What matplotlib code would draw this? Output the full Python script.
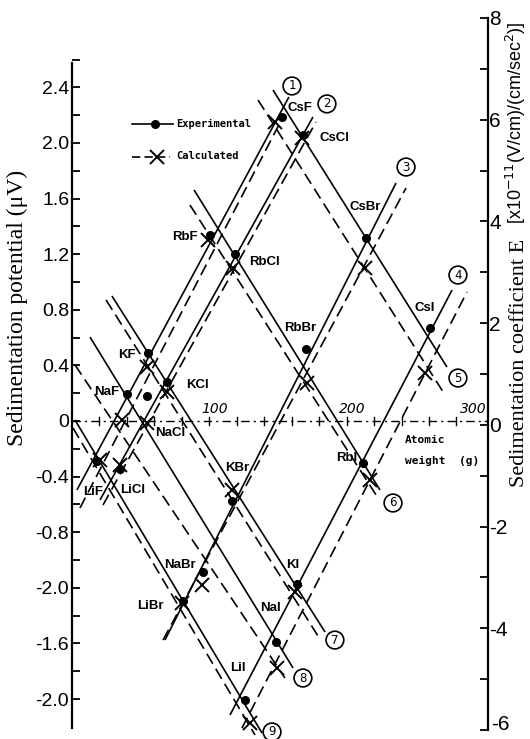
import matplotlib
matplotlib.use("Agg")
import matplotlib.pyplot as plt
from matplotlib.lines import Line2D
from matplotlib import font_manager

# ---------------- data (x = molecular/atomic weight, y = sedimentation potential, uV)
salts = ["CsF", "CsCl", "CsBr", "CsI",
         "RbF", "RbCl", "RbBr", "RbI",
         "KF", "KCl", "KBr", "KI",
         "NaF", "NaCl", "NaBr", "NaI",
         "LiF", "LiCl", "LiBr", "LiI"]
exp_x = [152.9, 168.2, 214.1, 260.7,
         100.5, 118.7, 170.4, 212.0,
         55.4, 69.2, 116.5, 163.9,
         40.1, 54.6, 95.4, 148.6,
         18.2, 35.0, 80.8, 126.0]
exp_y = [2.187, 2.058, 1.317, 0.669,
         1.338, 1.201, 0.518, -0.302,
         0.489, 0.281, -0.576, -1.173,
         0.194, 0.180, -1.086, -1.590,
         -0.288, -0.345, -1.295, -2.007]
calc_x = [147.9, 167.5, 213.4, 257.1,
          99.1, 117.3, 171.2, 217.0,
          54.6, 69.2, 116.5, 162.4,
          36.4, 54.6, 94.7, 149.3,
          20.4, 35.0, 80.1, 129.6]
calc_y = [2.151, 2.036, 1.101, 0.345,
          1.302, 1.101, 0.273, -0.424,
          0.388, 0.209, -0.496, -1.230,
          0.007, -0.014, -1.180, -1.777,
          -0.281, -0.317, -1.309, -2.173]

# numbered nomogram lines (1-4 anion lines, 5-9 cation lines)
line_ids = ["1", "2", "3", "4", "5", "6", "7", "8", "9"]
solid_x0 = [3.6, 20.4, 67.7, 115.1, 146.4, 88.9, 29.1, 13.1, 2.2]
solid_y0 = [-0.496, -0.568, -1.576, -2.115, 2.381, 1.662, 0.899, 0.604, 0.007]
solid_x1 = [158.0, 175.5, 236.0, 276.8, 273.1, 224.3, 184.3, 161.0, 138.4]
solid_y1 = [2.331, 2.187, 1.712, 0.942, 0.388, -0.496, -1.518, -1.777, -2.245]
dash_x0 = [5.8, 22.6, 66.3, 123.8, 135.5, 85.9, 24.8, 2.2, 0.7]
dash_y0 = [-0.626, -0.604, -1.576, -2.209, 2.309, 1.554, 0.871, 0.403, -0.050]
dash_x1 = [154.4, 177.7, 243.3, 287.7, 271.7, 222.9, 179.2, 155.1, 133.3]
dash_y1 = [2.201, 2.151, 1.676, 0.928, 0.187, -0.554, -1.547, -1.849, -2.259]

left_ticks = [2.4, 2.0, 1.6, 1.2, 0.8, 0.4, 0.0, -0.4, -0.8, -1.2, -1.6, -2.0]
left_labels = ["2.4", "2.0", "1.6", "1.2", "0.8", "0.4", "0", "-0.4", "-0.8", "-2.0", "-1.6", "-2.0"]
right_ticks = [8, 6, 4, 2, 0, -2, -4, -6]
x_labels = ["100", "200", "300"]
x_label_vals = [100, 200, 300]

# ---------------- fonts
_names = {f.name for f in font_manager.fontManager.ttflist}
NARROW = "Liberation Sans Narrow" if "Liberation Sans Narrow" in _names else "Liberation Sans"
SERIF = "Liberation Serif"
MONO = "DejaVu Sans Mono"

# ---------------- layout / style
W, H = 530, 739
fig = plt.figure(figsize=(W / 100, H / 100), dpi=100)
ax = fig.add_axes([72 / W, 1 - 730 / H, (488 - 72) / W, (730 - 18) / H])
ax.set_xlim(0, 303)
ax.set_ylim(-2.223, 2.899)
ax2 = ax.twinx()
ax2.set_ylim(-6, 8)

for s in ["top", "bottom", "right"]:
    ax.spines[s].set_visible(False)
for s in ["top", "bottom", "left"]:
    ax2.spines[s].set_visible(False)
ax.spines["left"].set_bounds(-2.209, 2.576)
ax.spines["left"].set_linewidth(1.6)
ax2.spines["right"].set_linewidth(1.6)

ax.set_xticks([])
ax.set_yticks(left_ticks)
ax.set_yticklabels(left_labels, fontfamily=NARROW, fontsize=14)
ax.set_yticks([v + 0.2 for v in left_ticks], minor=True)
ax.tick_params(axis="y", which="both", direction="in", length=6, width=1.3, pad=2)

# right axis: the lowest label is drawn separately so it stays inside the canvas
right_labels = [str(v) for v in right_ticks]
ax2.set_yticks(right_ticks)
ax2.set_yticklabels(right_labels[:-1] + [""], fontfamily=NARROW, fontsize=15)
ax2.set_yticks([v - 1 for v in right_ticks[:-1]], minor=True)
ax2.tick_params(axis="y", which="both", direction="in", length=6, width=1.3, pad=1)
ax2.annotate(right_labels[-1], (1.0, right_ticks[-1]), xycoords=("axes fraction", "data"),
             xytext=(3, 5), textcoords="offset pixels", ha="left", va="center",
             fontfamily=NARROW, fontsize=15, annotation_clip=False)

# x (atomic weight) axis drawn at zero potential
ax.plot([0, 303], [0, 0], color="black", lw=1.0, ls=(0, (6, 3, 1.5, 3)), zorder=2)
for xv in range(20, 300, 20):
    ax.plot([xv, xv], [-0.03, 0.03], color="black", lw=1.0, zorder=2)
for lab, xv in zip(x_labels, x_label_vals):
    ax.text(xv + (4 if xv < 300 else -8), 0.085, lab, fontsize=10, style="italic",
            ha="center", va="center", fontfamily="DejaVu Sans")
ax.text(242.5, -0.14, "Atomic", fontsize=8, fontfamily=MONO,
        fontweight="bold", ha="left", va="center")
ax.text(242.5, -0.288, "weight  (g)", fontsize=8, fontfamily=MONO,
        fontweight="bold", ha="left", va="center")

# nomogram lines
for i in range(len(line_ids)):
    ax.plot([solid_x0[i], solid_x1[i]], [solid_y0[i], solid_y1[i]],
            color="black", lw=1.2, solid_capstyle="butt", clip_on=False, zorder=3)
    ax.plot([dash_x0[i], dash_x1[i]], [dash_y0[i], dash_y1[i]],
            color="black", lw=1.2, ls=(0, (7, 3.5)), clip_on=False, zorder=3)

# points
ax.plot(exp_x, exp_y, "o", color="black", ms=5.5, zorder=5, clip_on=False)
ax.plot(calc_x, calc_y, "x", color="black", ms=10, mew=1.4, zorder=5, clip_on=False)

# salt labels (offsets in pixels from experimental dots)
label_off = [(18, 9), (32, -3), (-1, 31), (-5, 20),
             (-25, -2), (30, -8), (-6, 21), (-16, 5),
             (-21, -2), (30, -3), (5, 33), (-4, 19),
             (-20, 2), (23, -37), (-23, 7), (-6, 34),
             (-4, -31), (13, -21), (-33, -5), (-7, 32)]
for name, x, y, off in zip(salts, exp_x, exp_y, label_off):
    ax.annotate(name, (x, y), xytext=off, textcoords="offset pixels",
                ha="center", va="center", fontsize=9.5, fontweight="bold",
                fontfamily=NARROW, zorder=6)

# circled line numbers
circ_x = [160.2, 185.7, 243.3, 281.1, 281.1, 233.8, 191.5, 168.2, 145.7]
circ_y = [2.410, 2.281, 1.827, 1.050, 0.309, -0.590, -1.576, -1.849, -2.237]
for lid, cx, cy in zip(line_ids, circ_x, circ_y):
    ax.text(cx, cy, lid, fontsize=8.5, ha="center", va="center",
            fontfamily="DejaVu Sans", zorder=6, clip_on=False,
            bbox=dict(boxstyle="circle,pad=0.2", fc="white", ec="black", lw=1.2))

# legend (figure pixel positions)
def fx(px):
    return px / W

def fy(py):
    return 1 - py / H

fig.add_artist(Line2D([fx(132), fx(173)], [fy(124), fy(124)], color="black", lw=1.2))
fig.add_artist(Line2D([fx(155)], [fy(124)], marker="o", color="black", ms=5.5))
fig.add_artist(Line2D([fx(132), fx(170)], [fy(157), fy(157)], color="black", lw=1.2,
                      ls=(0, (5, 2.5))))
fig.add_artist(Line2D([fx(157)], [fy(157)], marker="x", color="black", ms=10, mew=1.4))
fig.text(fx(176), fy(124), "Experimental", fontsize=7.5, fontfamily=MONO,
         fontweight="bold", va="center", ha="left")
fig.text(fx(176), fy(156), "Calculated", fontsize=7.5, fontfamily=MONO,
         fontweight="bold", va="center", ha="left")

# axis titles
fig.text(fx(17), fy(308), "Sedimentation potential (\u03bcV)", rotation=90,
         fontsize=17, fontfamily=SERIF, ha="center", va="center")
fig.text(fx(519), fy(363), "Sedimentation coefficient E", rotation=90,
         fontsize=16, fontfamily=SERIF, ha="center", va="center")
fig.text(fx(516), fy(123), r"[x10$^{-11}$(V/cm)/(cm/sec$^2$)]", rotation=90,
         fontsize=13, fontfamily=NARROW, ha="center", va="center")

fig.savefig("out.png", dpi=100)
